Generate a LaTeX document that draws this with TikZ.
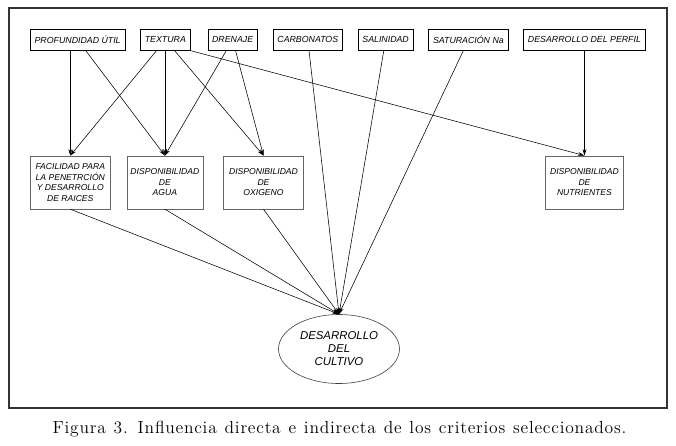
\documentclass[tikz,border=0pt]{standalone}
\usepackage{fontspec}
\newfontfamily\arialfont{Liberation Sans}
\newfontfamily\leyendafont[LetterSpace=4.5,WordSpace=1.2]{lmroman12-regular.otf}
\usetikzlibrary{arrows.meta,positioning,shapes.geometric}

\begin{document}
\begin{tikzpicture}[
		x=1pt, y=1pt,
		node distance=15pt and 16pt,
		crit/.style={draw, line width=0.6pt, font=\arialfont\itshape\fontsize{8.8}{10.5}\selectfont, inner xsep=4.3pt, inner ysep=2pt, minimum height=21pt},
		efecto/.style={draw=black!60, line width=0.6pt, align=center, font=\arialfont\itshape\fontsize{8.6}{10.5}\selectfont, inner xsep=3pt, minimum width=78pt, minimum height=53pt},
		meta/.style={ellipse, draw=black!75, line width=0.6pt, align=center, font=\arialfont\itshape\fontsize{11.4}{13}\selectfont, inner sep=0pt, minimum width=121pt, minimum height=69pt},
		arr/.style={-{Stealth[length=6.5pt, width=3.8pt]}, line width=0.55pt}
		]
		\useasboundingbox (0,0) rectangle (676,-446);
		\draw[line width=1.5pt, black!80] (9,-8) rectangle (667,-408);
		
		% criterios
		\node[crit, anchor=north west] (prof) at (30,-29) {PROFUNDIDAD ÚTIL};
		\node[crit, right=15pt of prof] (tex) {TEXTURA};
		\node[crit, right=17pt of tex] (dren) {DRENAJE};
		\node[crit, right=15pt of dren] (carb) {CARBONATOS};
		\node[crit, right=15pt of carb] (sal) {SALINIDAD};
		\node[crit, right=15pt of sal] (sat) {SATURACIÓN Na};
		\node[crit, right=15pt of sat] (perf) {DESARROLLO DEL PERFIL};
		
		% efectos intermedios
		\node[efecto, minimum width=80pt, below=105pt of prof.south west, anchor=north west] (fac) {FACILIDAD PARA\\LA PENETRCIÓN\\Y DESARROLLO\\DE RAICES};
		\node[efecto, minimum width=76pt, right=16pt of fac] (agua) {DISPONIBILIDAD\\DE\\AGUA};
		\node[efecto, minimum width=80pt, right=20pt of agua] (oxi) {DISPONIBILIDAD\\DE\\OXIGENO};
		\node[efecto, below=105pt of perf] (nut) {DISPONIBILIDAD\\DE\\NUTRIENTES};
		
		\node[meta, below=105pt of oxi.south, xshift=75.5pt] (cultivo) {DESARROLLO\\DEL\\CULTIVO};
		
		\draw[arr] (prof.south -| fac.north) -- (fac.north);
		\draw[arr] (prof) -- (agua.north);
		\draw[arr] (tex) -- (fac.north);
		\draw[arr] (tex.south -| agua.north) -- (agua.north);
		\draw[arr] (tex) -- (oxi.north);
		\draw[arr] (tex.south east) -- (nut.north);
		\draw[arr] (dren) -- (agua.north);
		\draw[arr] (dren) -- (oxi.north);
		\draw[arr] (perf.south -| nut.north) -- (nut.north);
		\draw[arr] (carb) -- (cultivo.north);
		\draw[arr] (sal) -- (cultivo.north);
		\draw[arr] (sat) -- (cultivo.north);
		\draw[arr] (fac.south) -- (cultivo.north);
		\draw[arr] (agua.south) -- (cultivo.north);
		\draw[arr] (oxi.south) -- (cultivo.north);
		
		\node[font=\leyendafont\fontsize{17.5}{21}\selectfont] (titulo) at (339.5,-429) {Figura 3. Influencia directa e indirecta de los criterios seleccionados.};
	\end{tikzpicture}
\end{document}
